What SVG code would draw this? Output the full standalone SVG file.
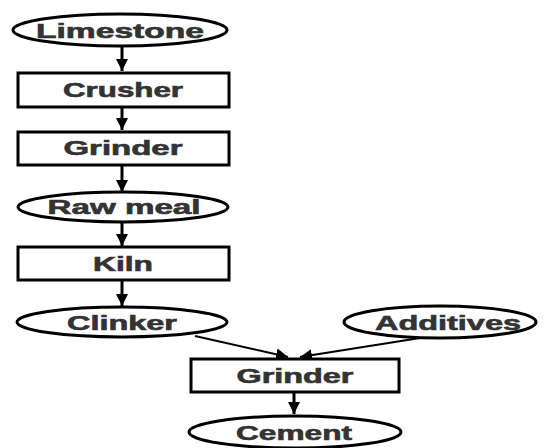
<svg xmlns="http://www.w3.org/2000/svg" width="544" height="448" viewBox="0 0 544 448">
<style>
.n{fill:#fff;stroke:#000;stroke-width:3}
.t{font-family:"Liberation Sans",Arial,sans-serif;font-weight:bold;font-size:20px;fill:#333;stroke:#333;stroke-width:0.6;text-anchor:middle;dominant-baseline:central}
.c{stroke:#000;stroke-width:3;fill:none}
.c2{stroke:#000;stroke-width:2;fill:none}
</style>
<defs>
<marker id="ah" viewBox="0 0 10 10" refX="10" refY="5" markerWidth="4" markerHeight="4" markerUnits="strokeWidth" orient="auto">
<path d="M0,0 L10,5 L0,10 z" fill="#000"/>
</marker>
<marker id="ah2" viewBox="0 0 10 10" refX="10" refY="5" markerWidth="6" markerHeight="6" markerUnits="strokeWidth" orient="auto">
<path d="M0,0 L10,5 L0,10 z" fill="#000"/>
</marker>
</defs>
<rect width="544" height="448" fill="#fff"/>
<g id="connectors">
<line class="c" x1="122" y1="47" x2="122" y2="71" marker-end="url(#ah)"/>
<line class="c" x1="122" y1="108" x2="122" y2="130" marker-end="url(#ah)"/>
<line class="c" x1="122" y1="166" x2="122" y2="192" marker-end="url(#ah)"/>
<line class="c" x1="122" y1="223" x2="122" y2="246" marker-end="url(#ah)"/>
<line class="c" x1="122" y1="281" x2="122" y2="306" marker-end="url(#ah)"/>
<line class="c2" x1="195" y1="336" x2="288" y2="357" marker-end="url(#ah2)"/>
<line class="c2" x1="420" y1="338" x2="300" y2="357" marker-end="url(#ah2)"/>
<line class="c" x1="294" y1="393" x2="294" y2="414" marker-end="url(#ah)"/>
</g>
<g id="limestone"><ellipse class="n" cx="120" cy="30" rx="107" ry="16"/><text class="t" x="120" y="31" textLength="168" lengthAdjust="spacingAndGlyphs">Limestone</text></g>
<g id="crusher"><rect class="n" x="18" y="73" width="211" height="34"/><text class="t" x="123" y="90" textLength="120" lengthAdjust="spacingAndGlyphs">Crusher</text></g>
<g id="grinder1"><rect class="n" x="18" y="132" width="211" height="33"/><text class="t" x="123" y="148" textLength="119" lengthAdjust="spacingAndGlyphs">Grinder</text></g>
<g id="rawmeal"><ellipse class="n" cx="123" cy="207" rx="105" ry="15"/><text class="t" x="124" y="207" textLength="153" lengthAdjust="spacingAndGlyphs">Raw meal</text></g>
<g id="kiln"><rect class="n" x="18" y="247" width="211" height="33"/><text class="t" x="123" y="264" textLength="60" lengthAdjust="spacingAndGlyphs">Kiln</text></g>
<g id="clinker"><ellipse class="n" cx="122" cy="322" rx="105" ry="15"/><text class="t" x="122" y="323" textLength="110" lengthAdjust="spacingAndGlyphs">Clinker</text></g>
<g id="additives"><ellipse class="n" cx="440" cy="322" rx="96" ry="16"/><text class="t" x="448" y="323" textLength="146" lengthAdjust="spacingAndGlyphs">Additives</text></g>
<g id="grinder2"><rect class="n" x="191" y="359" width="208" height="33"/><text class="t" x="295" y="376" textLength="117" lengthAdjust="spacingAndGlyphs">Grinder</text></g>
<g id="cement"><ellipse class="n" cx="295" cy="432" rx="106" ry="16"/><text class="t" x="294" y="433" textLength="116" lengthAdjust="spacingAndGlyphs">Cement</text></g>
</svg>
